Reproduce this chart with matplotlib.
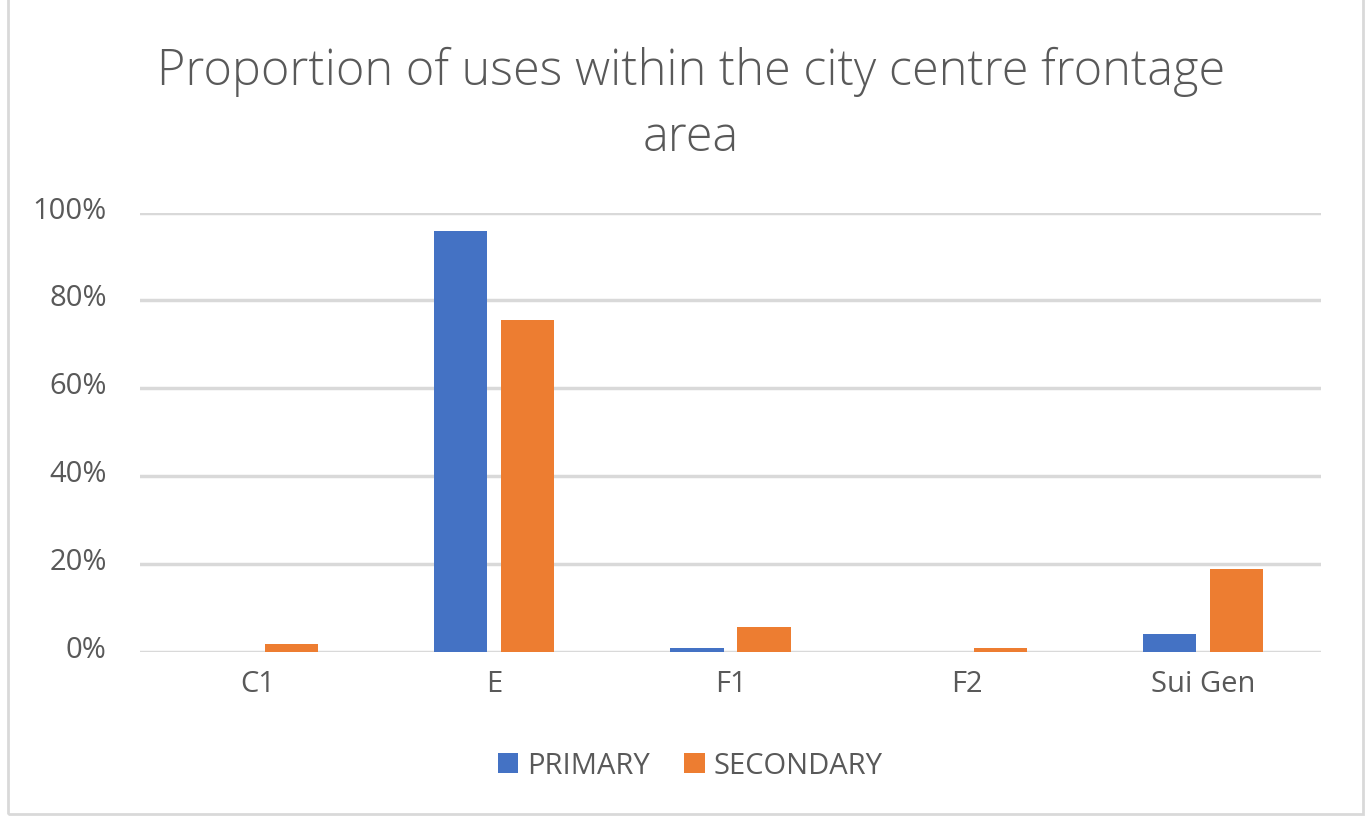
import matplotlib
matplotlib.use("Agg")
import matplotlib.pyplot as plt
import matplotlib.transforms as mtransforms
import numpy as np
from matplotlib.patches import Rectangle

categories = ["C1", "E", "F1", "F2", "Sui Gen"]
primary = [0.0, 95.7, 0.9, 0.0, 4.1]
secondary = [1.6, 75.6, 5.5, 0.9, 18.9]
series_names = ["PRIMARY", "SECONDARY"]
yticks = [0, 20, 40, 60, 80, 100]
title = "Proportion of uses within the city centre frontage\narea"

blue = "#4472C4"
orange = "#ED7D31"
grey_text = "#595959"
grid_c = "#D9D9D9"

plt.rcParams['font.family'] = ['Open Sans', 'DejaVu Sans']

W, H = 1368, 818
fig = plt.figure(figsize=(W / 100, H / 100), dpi=100)
ax = fig.add_axes([140 / W, 1 - 651.5 / H, (1321 - 140) / W, (651.5 - 212.5) / H])

x = np.arange(len(categories))
bw = 0.225
off = 0.142
ax.bar(x - off, primary, bw, color=blue, label=series_names[0], zorder=3)
ax.bar(x + off, secondary, bw, color=orange, label=series_names[1], zorder=3)

ax.set_xlim(-0.5, len(categories) - 0.5)
ax.set_ylim(0, 100)
ax.set_yticks(yticks)
ax.set_yticklabels([f"{v}%" for v in yticks])
ax.set_xticks(x)
ax.set_xticklabels(categories)
ax.tick_params(axis='both', length=0, colors=grey_text, labelsize=21)
ax.tick_params(axis='y', pad=24)
ax.tick_params(axis='x', pad=13)
up = mtransforms.ScaledTranslation(0, 5 / 100, fig.dpi_scale_trans)
for lab in ax.get_yticklabels():
    lab.set_transform(lab.get_transform() + up)
for s in ax.spines.values():
    s.set_visible(False)
ax.grid(axis='y', color=grid_c, linewidth=2.5, zorder=0)
ax.set_axisbelow(True)

fig.text(691 / W, 1 - 47 / H, title, ha='center', va='top', fontsize=35,
         color=grey_text, linespacing=1.42, fontweight='light')

leg = fig.legend(loc='center', bbox_to_anchor=(690 / W, 1 - 766 / H), ncol=2,
                 frameon=False, fontsize=21, handlelength=0.69, handleheight=0.69,
                 columnspacing=1.2, handletextpad=0.3)
for t in leg.get_texts():
    t.set_color(grey_text)

fig.patches.append(Rectangle((8 / W, 4 / H), (1363 - 8) / W, (830 - 4) / H,
                             transform=fig.transFigure, fill=False,
                             edgecolor=grid_c, linewidth=2))

fig.savefig("out.png", dpi=100)
